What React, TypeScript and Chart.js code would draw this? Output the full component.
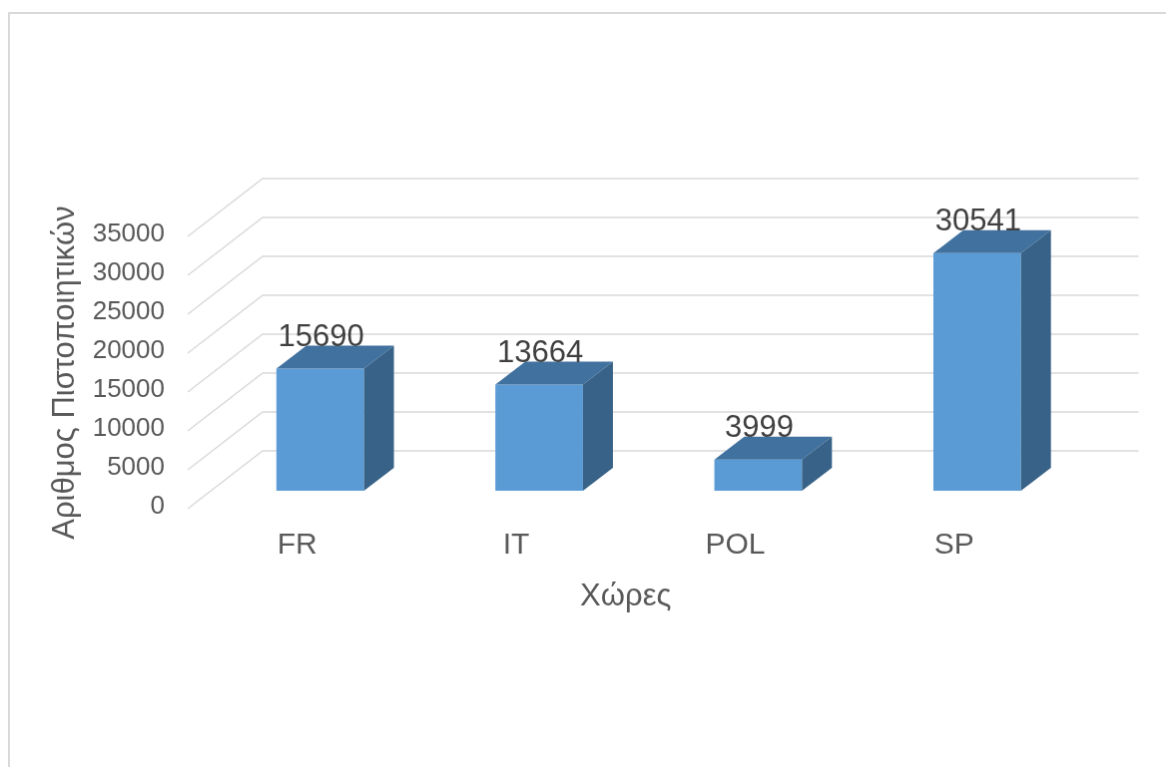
import { useEffect, useRef } from "react";
import { Chart, registerables } from "chart.js";

Chart.register(...registerables);

// Certificates issued per country
const countries = ["FR", "IT", "POL", "SP"];
const certificates = [15690, 13664, 3999, 30541];
const yTicksMax = 35000;
const yTicksStep = 5000;
const yTitle = "Αριθμος Πιστοποιητικών";
const xTitle = "Χώρες";

// Pseudo-3D offsets, measured from the plane the bar fronts sit on
const FRONT = { dx: -23, dy: 18 }; // front edge of the floor
const BACK = { dx: 52, dy: -40 }; // back wall
const DEPTH = { dx: 30, dy: -23 }; // depth of each bar

const FONT = "'Liberation Sans', Arial, sans-serif";
const FRONT_COLOR = "#5b9bd5";
const TOP_COLOR = "#41729f";
const SIDE_COLOR = "#386287";
const GRID_COLOR = "#d9d9d9";

const threeD = {
  id: "threeD",
  beforeDatasetsDraw(chart: any) {
    const { ctx, chartArea, scales } = chart;
    const y = scales.y;
    ctx.save();
    ctx.strokeStyle = GRID_COLOR;
    ctx.lineWidth = 1.5;
    for (const t of y.ticks) {
      const py = y.getPixelForValue(t.value);
      ctx.beginPath();
      ctx.moveTo(chartArea.left + FRONT.dx, py + FRONT.dy);
      ctx.lineTo(chartArea.left + BACK.dx, py + BACK.dy);
      ctx.lineTo(chartArea.right + BACK.dx, py + BACK.dy);
      ctx.stroke();
    }
    ctx.restore();
  },
  afterDatasetsDraw(chart: any) {
    const { ctx } = chart;
    const meta = chart.getDatasetMeta(0);
    ctx.save();
    meta.data.forEach((bar: any, i: number) => {
      const { x, y, base, width } = bar.getProps(["x", "y", "base", "width"], true);
      const l = x - width / 2;
      const r = x + width / 2;
      // top face
      ctx.fillStyle = TOP_COLOR;
      ctx.beginPath();
      ctx.moveTo(l, y);
      ctx.lineTo(r, y);
      ctx.lineTo(r + DEPTH.dx, y + DEPTH.dy);
      ctx.lineTo(l + DEPTH.dx, y + DEPTH.dy);
      ctx.closePath();
      ctx.fill();
      // right side face
      ctx.fillStyle = SIDE_COLOR;
      ctx.beginPath();
      ctx.moveTo(r, y);
      ctx.lineTo(r, base);
      ctx.lineTo(r + DEPTH.dx, base + DEPTH.dy);
      ctx.lineTo(r + DEPTH.dx, y + DEPTH.dy);
      ctx.closePath();
      ctx.fill();
      // value label
      ctx.fillStyle = "#404040";
      ctx.font = `31px ${FONT}`;
      ctx.textAlign = "center";
      ctx.textBaseline = "middle";
      ctx.fillText(String(certificates[i]), x + 1, y - 31);
    });
    ctx.restore();
  },
  afterDraw(chart: any) {
    const { ctx, chartArea } = chart;
    ctx.save();
    ctx.fillStyle = "#595959";
    ctx.font = `31px ${FONT}`;
    ctx.textAlign = "center";
    ctx.textBaseline = "middle";
    ctx.fillText(xTitle, (chartArea.left + chartArea.right) / 2 + FRONT.dx, chartArea.bottom + 106);
    ctx.translate(55.5, (chartArea.top + chartArea.bottom) / 2 + FRONT.dy);
    ctx.rotate(-Math.PI / 2);
    ctx.fillText(yTitle, 0, 0);
    ctx.restore();
  },
};

export default function App() {
  const ref = useRef<HTMLCanvasElement>(null);

  useEffect(() => {
    document.body.style.overflow = "hidden";
    const chart = new Chart(ref.current!, {
      type: "bar",
      data: {
        labels: countries,
        datasets: [
          {
            data: certificates,
            backgroundColor: FRONT_COLOR,
            borderWidth: 0,
            categoryPercentage: 1,
            barPercentage: 0.4,
          },
        ],
      },
      options: {
        animation: false,
        responsive: false,
        layout: { padding: { left: 0, right: 79.5, top: 205, bottom: 0 } },
        plugins: { legend: { display: false }, tooltip: { enabled: false } },
        scales: {
          x: {
            grid: { display: false, drawTicks: false },
            border: { display: false },
            ticks: {
              color: "#595959",
              font: { size: 30, family: FONT },
              padding: 37,
              labelOffset: FRONT.dx,
              maxRotation: 0,
            },
            afterFit: (s: any) => {
              s.height = 277;
            },
          },
          y: {
            min: 0,
            max: yTicksMax,
            grid: { display: false, drawTicks: false },
            border: { display: false },
            ticks: {
              stepSize: yTicksStep,
              color: "#595959",
              font: { size: 26, family: FONT },
              padding: 46,
              labelOffset: 16,
              callback: (v: any) => String(v),
            },
            afterFit: (s: any) => {
              s.width = 201;
            },
          },
        },
      },
      plugins: [threeD],
    });
    return () => chart.destroy();
  }, []);

  return (
    <canvas
      ref={ref}
      width={1158}
      height={755}
      style={{
        position: "absolute",
        left: 8,
        top: 12,
        borderTop: "2px solid #d9d9d9",
        borderLeft: "2px solid #d9d9d9",
        display: "block",
      }}
    />
  );
}
